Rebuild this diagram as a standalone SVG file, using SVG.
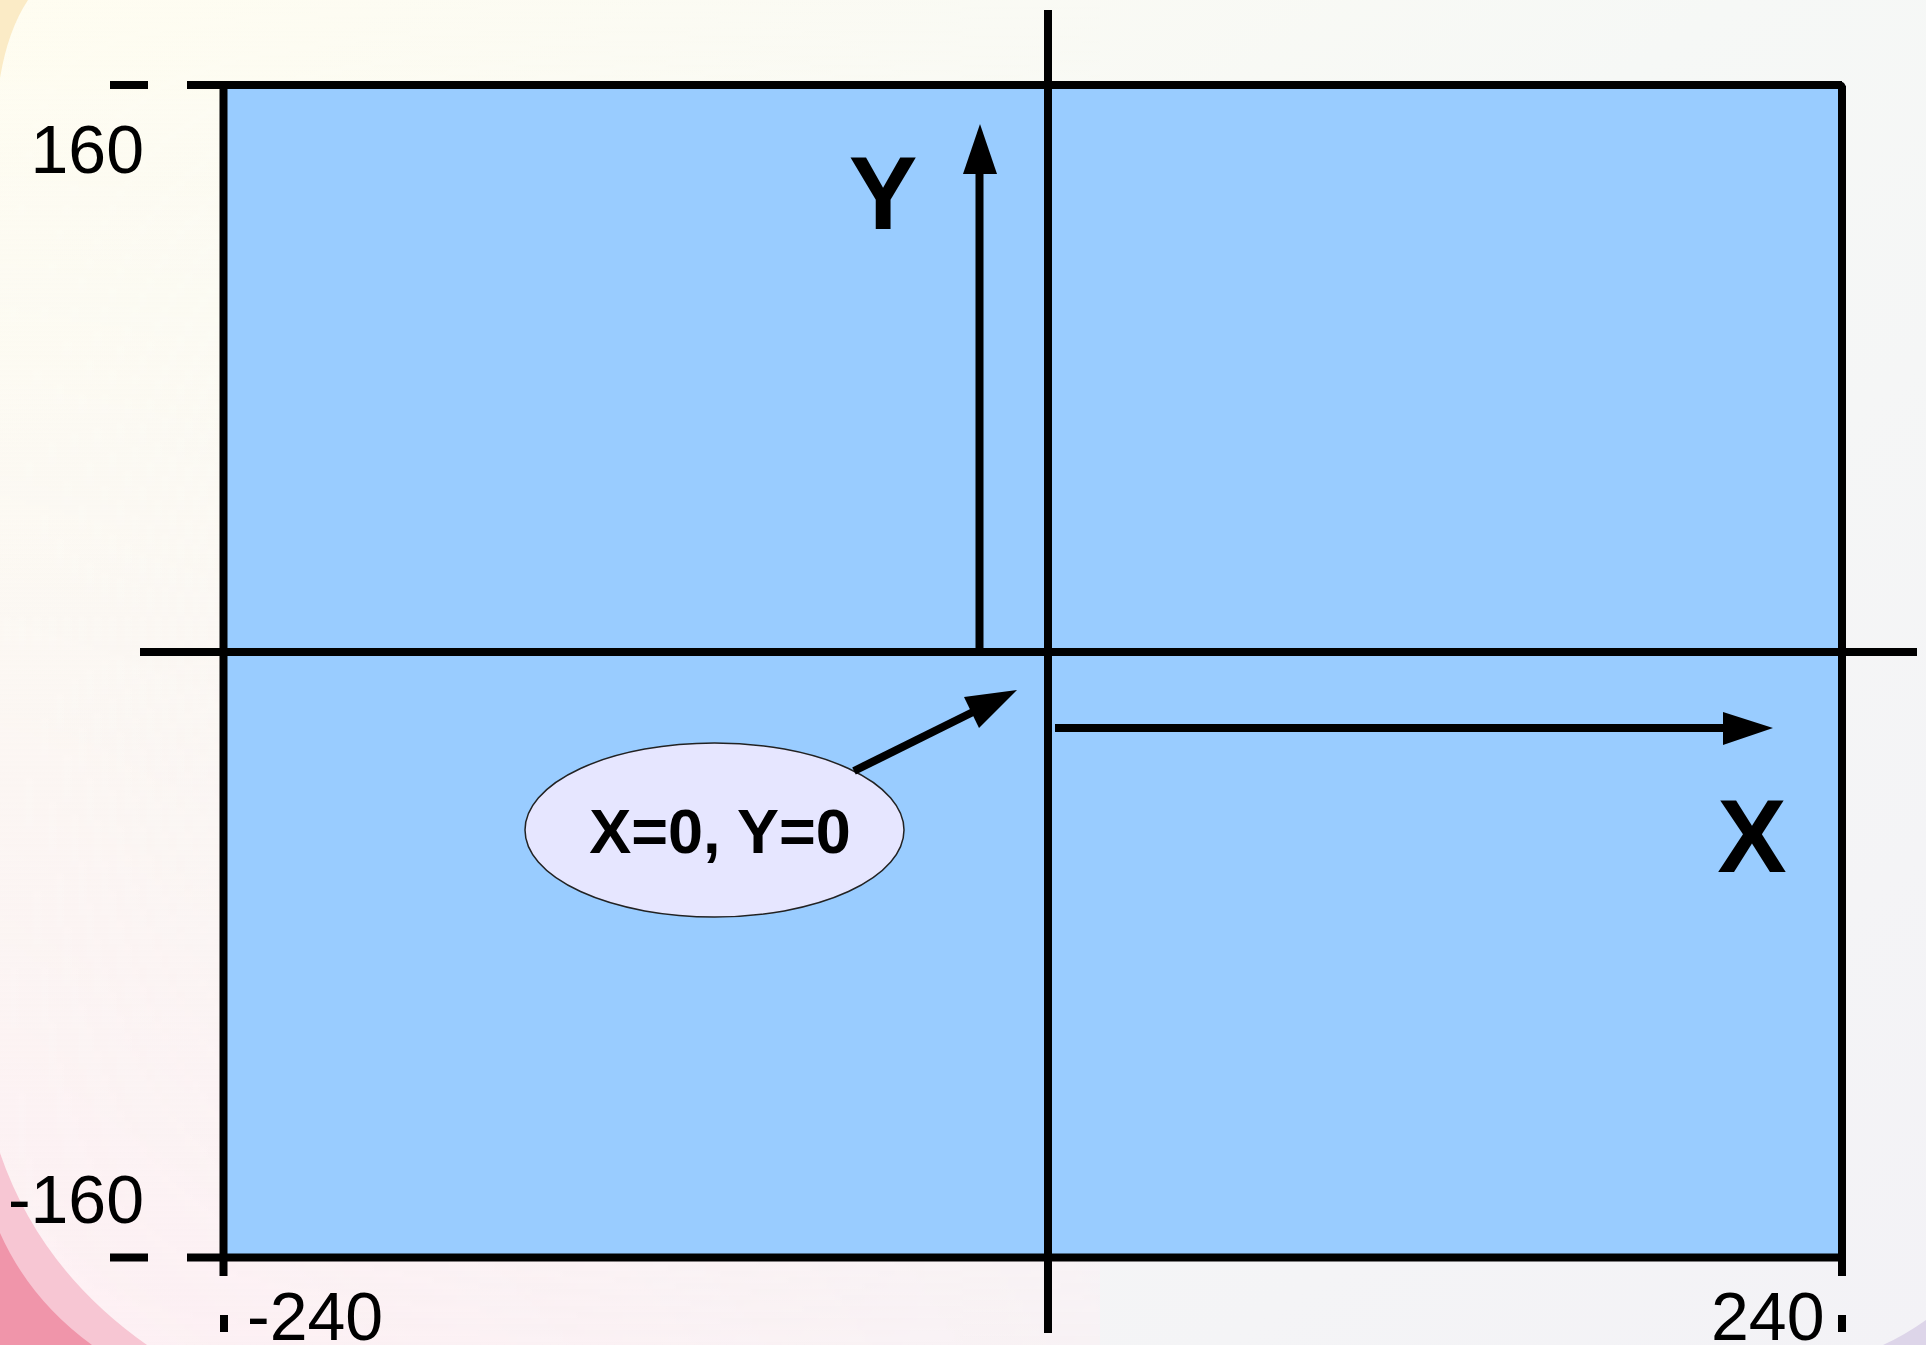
<svg xmlns="http://www.w3.org/2000/svg" width="1926" height="1345" viewBox="0 0 1926 1345">
<defs>
<linearGradient id="bg" x1="0" y1="0" x2="1" y2="1">
<stop offset="0" stop-color="#FFFDF1"/>
<stop offset="0.45" stop-color="#F6F8F6"/>
<stop offset="1" stop-color="#F3F2F6"/>
</linearGradient>
<linearGradient id="bgl" x1="0" y1="0" x2="0" y2="1">
<stop offset="0" stop-color="#FFFDF4" stop-opacity="0"/>
<stop offset="0.55" stop-color="#FDF4F2" stop-opacity="0.6"/>
<stop offset="1" stop-color="#FDEFF3" stop-opacity="1"/>
</linearGradient>
<linearGradient id="bglx" x1="0" y1="0" x2="1" y2="0">
<stop offset="0" stop-color="#FFFFFF" stop-opacity="1"/>
<stop offset="1" stop-color="#FFFFFF" stop-opacity="0"/>
</linearGradient>
<mask id="lm"><rect x="0" y="0" width="1926" height="1345" fill="url(#bglx)"/></mask>
<style>
.ln{stroke:#000;stroke-width:8;fill:none}
.ah{fill:#000}
.lbl{font-family:"Liberation Sans",Arial,sans-serif;fill:#000}
.b{font-weight:bold}
</style>
</defs>
<g id="background">
<rect x="0" y="0" width="1926" height="1345" fill="url(#bg)"/>
<rect x="0" y="0" width="1100" height="1345" fill="url(#bgl)" mask="url(#lm)"/>
<path d="M0,0 L28,0 Q8,30 0,78 Z" fill="#FBEBC6"/>
<path d="M0,1153 Q40,1270 147,1345 L0,1345 Z" fill="#F7C6D3"/>
<path d="M0,1233 Q30,1300 92,1345 L0,1345 Z" fill="#F095AA"/>
<path d="M1883,1345 Q1905,1335 1926,1320 L1926,1345 Z" fill="#DDD5E9"/>
</g>
<g id="canvas">
<rect x="223.5" y="85" width="1618.5" height="1172.5" fill="#99CCFF"/>
<line class="ln" x1="187" y1="85" x2="1842" y2="85"/>
<path class="ln" d="M1838,85 Q1842,85 1842,89"/>
<line class="ln" x1="187" y1="1257.5" x2="1842" y2="1257.5"/>
<line class="ln" x1="223.5" y1="81" x2="223.5" y2="1276"/>
<line class="ln" x1="1842" y1="86" x2="1842" y2="1276"/>
<line class="ln" x1="110" y1="85" x2="148" y2="85"/>
<line class="ln" x1="110" y1="1257.5" x2="148" y2="1257.5"/>
<line class="ln" x1="224" y1="1315" x2="224" y2="1332"/>
<line class="ln" x1="1842" y1="1315" x2="1842" y2="1332"/>
<line class="ln" x1="140" y1="652" x2="1917" y2="652"/>
<line class="ln" x1="1048" y1="10" x2="1048" y2="1333"/>
</g>
<g id="ticklabels">
<text class="lbl" x="144" y="173" font-size="68" text-anchor="end">160</text>
<text class="lbl" x="144" y="1223" font-size="68" text-anchor="end">-160</text>
<text class="lbl" x="247" y="1340" font-size="68">-240</text>
<text class="lbl" x="1711" y="1340" font-size="68">240</text>
</g>
<g id="node-y">
<text class="lbl b" x="883" y="229" font-size="103" text-anchor="middle">Y</text>
</g>
<g id="node-x">
<text class="lbl b" x="1752" y="872" font-size="104" text-anchor="middle">X</text>
</g>
<g id="node-origin">
<ellipse cx="714.5" cy="830" rx="189.5" ry="87" fill="#E6E6FF" stroke="#222" stroke-width="1.5"/>
<text class="lbl b" x="720" y="853" font-size="63" text-anchor="middle">X=0, Y=0</text>
</g>
<g id="connectors">
<line class="ln" x1="979.5" y1="648" x2="979.5" y2="170"/>
<polygon class="ah" points="980,124 963,174 997,174"/>
<line class="ln" x1="1055" y1="728" x2="1727" y2="728"/>
<polygon class="ah" points="1773,728 1723,712 1723,745"/>
<line class="ln" x1="854" y1="771" x2="975" y2="711"/>
<polygon class="ah" points="1017,690 964,697 979,728"/>
</g>
</svg>
